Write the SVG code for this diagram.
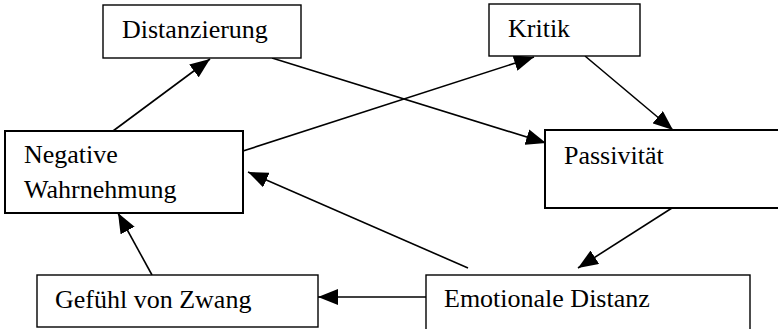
<svg xmlns="http://www.w3.org/2000/svg" width="778" height="329" viewBox="0 0 778 329">
  <defs>
    <marker id="arrow" markerUnits="userSpaceOnUse" markerWidth="20" markerHeight="16" refX="20" refY="8" orient="auto">
      <path d="M0,0 L20,8 L0,16 z" fill="#000"/>
    </marker>
    <style>
      .box { fill: #fff; stroke: #000; stroke-width: 1.4; }
      .box.thick { stroke-width: 2; }
      .label { font-size: 26px; fill: #000; }
      .edge { stroke: #000; stroke-width: 1.6; fill: none; marker-end: url(#arrow); }
    </style>
  </defs>
  <rect width="778" height="329" fill="#fff"/>

  <g id="connectors">
    <line class="edge" x1="113" y1="131" x2="210" y2="59"/>
    <line class="edge" x1="272" y1="58" x2="546" y2="143"/>
    <line class="edge" x1="243" y1="151" x2="534" y2="57"/>
    <line class="edge" x1="585" y1="56" x2="673" y2="130"/>
    <line class="edge" x1="672" y1="208" x2="578" y2="268"/>
    <line class="edge" x1="468" y1="268" x2="248" y2="172"/>
    <line class="edge" x1="426" y1="297" x2="318" y2="297"/>
    <line class="edge" x1="152" y1="275" x2="118" y2="213"/>
  </g>

  <g font-family="'Liberation Serif', 'DejaVu Serif', 'Times New Roman', serif">
    <g id="distanzierung">
      <rect class="box" x="103" y="5" width="198" height="53"/>
      <text class="label" x="122" y="38">Distanzierung</text>
    </g>
    <g id="kritik">
      <rect class="box" x="489" y="4" width="151" height="52"/>
      <text class="label" x="508" y="37">Kritik</text>
    </g>
    <g id="negative-wahrnehmung">
      <rect class="box thick" x="5" y="131" width="238" height="82"/>
      <text class="label" x="24" y="163">Negative</text>
      <text class="label" x="24" y="198">Wahrnehmung</text>
    </g>
    <g id="passivitaet">
      <rect class="box thick" x="545" y="130" width="240" height="78"/>
      <text class="label" x="564" y="164">Passivität</text>
    </g>
    <g id="gefuehl-von-zwang">
      <rect class="box" x="37" y="275" width="281" height="52"/>
      <text class="label" x="55" y="308">Gefühl von Zwang</text>
    </g>
    <g id="emotionale-distanz">
      <rect class="box" x="426" y="275" width="324" height="60"/>
      <text class="label" x="444" y="307">Emotionale Distanz</text>
    </g>
  </g>
</svg>
